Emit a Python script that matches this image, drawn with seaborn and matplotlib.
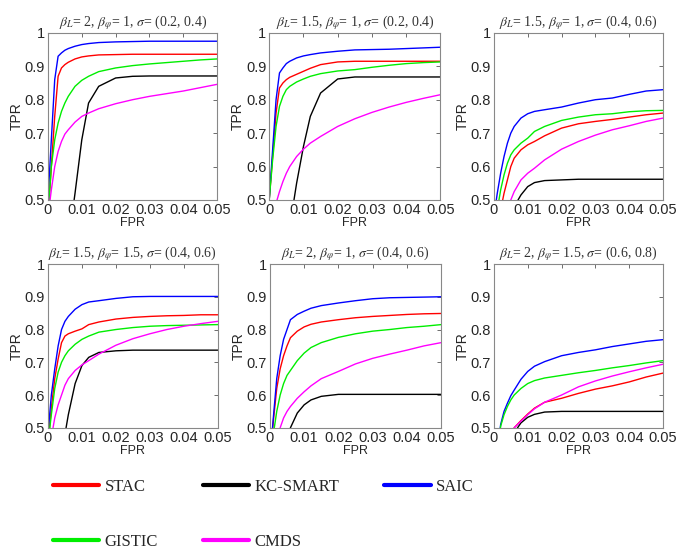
import numpy as np
import pandas as pd
import matplotlib
matplotlib.use('Agg')
import matplotlib.pyplot as plt
from matplotlib.lines import Line2D
from matplotlib.ticker import FuncFormatter
import seaborn as sns

sns.set_style('white')
plt.rcParams['font.family'] = ['Liberation Sans', 'DejaVu Sans']
plt.rcParams['mathtext.fontset'] = 'stix'

# common FPR grid
fpr = [0, 0.001, 0.002, 0.003, 0.004, 0.005, 0.006, 0.008, 0.010, 0.012,
       0.015, 0.020, 0.025, 0.030, 0.035, 0.040, 0.045, 0.050]

methods = ['STAC', 'KC-SMART', 'SAIC', 'GISTIC', 'CMDS']
colors = {'STAC': '#ff0000', 'KC-SMART': '#000000', 'SAIC': '#0000ff',
          'GISTIC': '#00ee00', 'CMDS': '#ff00ff'}

titles = [r'$\beta_L$= 2, $\beta_\varphi$= 1, $\sigma$= (0.2, 0.4)',
          r'$\beta_L$= 1.5, $\beta_\varphi$= 1, $\sigma$= (0.2, 0.4)',
          r'$\beta_L$= 1.5, $\beta_\varphi$= 1, $\sigma$= (0.4, 0.6)',
          r'$\beta_L$= 1.5, $\beta_\varphi$= 1.5, $\sigma$= (0.4, 0.6)',
          r'$\beta_L$= 2, $\beta_\varphi$= 1, $\sigma$= (0.4, 0.6)',
          r'$\beta_L$= 2, $\beta_\varphi$= 1.5, $\sigma$= (0.6, 0.8)']

# panel 1
p1_stac = [0.45, 0.60, 0.75, 0.87, 0.895, 0.905, 0.912, 0.922, 0.928, 0.931, 0.934, 0.935, 0.936, 0.936, 0.936, 0.936, 0.936, 0.936]
p1_kc   = [0.10, 0.12, 0.15, 0.18, 0.22, 0.30, 0.37, 0.52, 0.68, 0.79, 0.84, 0.865, 0.870, 0.871, 0.871, 0.871, 0.871, 0.871]
p1_saic = [0.50, 0.68, 0.86, 0.93, 0.94, 0.948, 0.953, 0.960, 0.965, 0.968, 0.971, 0.973, 0.974, 0.975, 0.975, 0.975, 0.975, 0.975]
p1_gis  = [0.45, 0.60, 0.68, 0.73, 0.765, 0.79, 0.81, 0.84, 0.858, 0.87, 0.884, 0.895, 0.902, 0.907, 0.911, 0.915, 0.919, 0.922]
p1_cmds = [0.45, 0.53, 0.60, 0.645, 0.675, 0.697, 0.71, 0.733, 0.75, 0.76, 0.773, 0.788, 0.80, 0.81, 0.818, 0.826, 0.836, 0.846]

# panel 2
p2_stac = [0.50, 0.63, 0.76, 0.835, 0.85, 0.86, 0.867, 0.876, 0.885, 0.894, 0.905, 0.913, 0.915, 0.915, 0.915, 0.915, 0.915, 0.915]
p2_kc   = [0.10, 0.12, 0.15, 0.18, 0.24, 0.32, 0.42, 0.55, 0.66, 0.75, 0.82, 0.862, 0.868, 0.868, 0.868, 0.868, 0.868, 0.868]
p2_saic = [0.50, 0.65, 0.80, 0.88, 0.895, 0.908, 0.915, 0.925, 0.931, 0.935, 0.94, 0.945, 0.949, 0.95, 0.951, 0.953, 0.955, 0.957]
p2_gis  = [0.50, 0.62, 0.72, 0.78, 0.81, 0.83, 0.84, 0.853, 0.862, 0.87, 0.878, 0.886, 0.89, 0.897, 0.903, 0.908, 0.911, 0.913]
p2_cmds = [0.40, 0.44, 0.49, 0.525, 0.555, 0.58, 0.60, 0.63, 0.652, 0.67, 0.69, 0.72, 0.743, 0.762, 0.778, 0.792, 0.804, 0.815]

# panel 3
p3_stac = [0.40, 0.43, 0.47, 0.52, 0.56, 0.60, 0.625, 0.65, 0.665, 0.675, 0.692, 0.715, 0.728, 0.735, 0.741, 0.748, 0.755, 0.76]
p3_kc   = [0.30, 0.33, 0.36, 0.39, 0.42, 0.45, 0.48, 0.515, 0.54, 0.552, 0.558, 0.56, 0.562, 0.562, 0.562, 0.562, 0.562, 0.562]
p3_saic = [0.45, 0.52, 0.58, 0.63, 0.67, 0.70, 0.72, 0.745, 0.758, 0.765, 0.77, 0.778, 0.79, 0.80, 0.805, 0.816, 0.826, 0.83]
p3_gis  = [0.42, 0.47, 0.53, 0.575, 0.61, 0.635, 0.65, 0.67, 0.685, 0.705, 0.72, 0.738, 0.748, 0.755, 0.758, 0.764, 0.767, 0.768]
p3_cmds = [0.35, 0.38, 0.41, 0.44, 0.47, 0.50, 0.525, 0.56, 0.58, 0.595, 0.62, 0.652, 0.675, 0.694, 0.71, 0.722, 0.735, 0.745]

# panel 4
p4_stac = [0.45, 0.56, 0.65, 0.71, 0.76, 0.78, 0.787, 0.795, 0.802, 0.815, 0.823, 0.832, 0.837, 0.84, 0.842, 0.843, 0.845, 0.845]
p4_kc   = [0.20, 0.25, 0.30, 0.36, 0.42, 0.48, 0.54, 0.635, 0.69, 0.715, 0.73, 0.735, 0.737, 0.737, 0.737, 0.737, 0.737, 0.737]
p4_saic = [0.48, 0.60, 0.68, 0.75, 0.80, 0.825, 0.84, 0.862, 0.876, 0.884, 0.888, 0.895, 0.90, 0.901, 0.901, 0.901, 0.901, 0.901]
p4_gis  = [0.45, 0.54, 0.62, 0.67, 0.70, 0.72, 0.735, 0.755, 0.77, 0.78, 0.792, 0.80, 0.806, 0.81, 0.812, 0.813, 0.814, 0.815]
p4_cmds = [0.42, 0.47, 0.53, 0.57, 0.60, 0.63, 0.65, 0.675, 0.692, 0.705, 0.725, 0.752, 0.772, 0.787, 0.80, 0.81, 0.818, 0.825]

# panel 5
p5_stac = [0.40, 0.52, 0.62, 0.68, 0.72, 0.75, 0.775, 0.795, 0.808, 0.816, 0.823, 0.83, 0.836, 0.84, 0.843, 0.846, 0.848, 0.849]
p5_kc   = [0.20, 0.25, 0.30, 0.35, 0.40, 0.45, 0.50, 0.545, 0.57, 0.585, 0.596, 0.602, 0.602, 0.602, 0.602, 0.602, 0.602, 0.602]
p5_saic = [0.40, 0.53, 0.65, 0.72, 0.77, 0.80, 0.83, 0.846, 0.856, 0.865, 0.873, 0.881, 0.888, 0.894, 0.897, 0.898, 0.899, 0.90]
p5_gis  = [0.40, 0.48, 0.55, 0.60, 0.635, 0.66, 0.675, 0.705, 0.728, 0.745, 0.76, 0.776, 0.787, 0.795, 0.80, 0.806, 0.81, 0.815]
p5_cmds = [0.35, 0.40, 0.45, 0.50, 0.53, 0.55, 0.565, 0.59, 0.61, 0.628, 0.65, 0.672, 0.695, 0.712, 0.725, 0.737, 0.75, 0.76]

# panel 6
p6_stac = [0.30, 0.33, 0.36, 0.40, 0.44, 0.47, 0.50, 0.522, 0.542, 0.56, 0.578, 0.59, 0.605, 0.618, 0.628, 0.64, 0.655, 0.667]
p6_kc   = [0.30, 0.33, 0.36, 0.39, 0.42, 0.45, 0.485, 0.515, 0.532, 0.541, 0.548, 0.55, 0.55, 0.55, 0.55, 0.55, 0.55, 0.55]
p6_saic = [0.35, 0.42, 0.51, 0.55, 0.575, 0.598, 0.615, 0.648, 0.672, 0.688, 0.702, 0.72, 0.73, 0.738, 0.748, 0.756, 0.764, 0.769]
p6_gis  = [0.35, 0.42, 0.505, 0.54, 0.565, 0.585, 0.60, 0.62, 0.635, 0.644, 0.652, 0.66, 0.668, 0.675, 0.683, 0.69, 0.698, 0.705]
p6_cmds = [0.30, 0.33, 0.36, 0.40, 0.44, 0.47, 0.50, 0.52, 0.54, 0.558, 0.578, 0.60, 0.625, 0.643, 0.658, 0.671, 0.683, 0.694]

panels = [
    [p1_stac, p1_kc, p1_saic, p1_gis, p1_cmds],
    [p2_stac, p2_kc, p2_saic, p2_gis, p2_cmds],
    [p3_stac, p3_kc, p3_saic, p3_gis, p3_cmds],
    [p4_stac, p4_kc, p4_saic, p4_gis, p4_cmds],
    [p5_stac, p5_kc, p5_saic, p5_gis, p5_cmds],
    [p6_stac, p6_kc, p6_saic, p6_gis, p6_cmds],
]

# axes boxes in figure fraction (left, bottom, width, height)
boxes = [[0.070, 0.641, 0.247, 0.300], [0.393, 0.641, 0.250, 0.300], [0.721, 0.641, 0.247, 0.300],
         [0.070, 0.232, 0.248, 0.294], [0.394, 0.232, 0.250, 0.294], [0.721, 0.232, 0.247, 0.294]]

fig = plt.figure(figsize=(6.85, 5.57), dpi=100)
fmt = FuncFormatter(lambda v, p: '%g' % round(v, 3))

for i in range(6):
    ax = fig.add_axes(boxes[i])
    rows = []
    for m, ys in zip(methods, panels[i]):
        for x, y in zip(fpr, ys):
            rows.append({'FPR': x, 'TPR': y, 'method': m})
    df = pd.DataFrame(rows)
    sns.lineplot(data=df, x='FPR', y='TPR', hue='method', palette=colors,
                 legend=False, sort=False, lw=1.0, ax=ax)
    ax.set_xlim(0, 0.05)
    ax.set_ylim(0.5, 1)
    ax.set_xticks([0, 0.01, 0.02, 0.03, 0.04, 0.05])
    ax.set_yticks([0.5, 0.6, 0.7, 0.8, 0.9, 1.0])
    ax.xaxis.set_major_formatter(fmt)
    ax.yaxis.set_major_formatter(fmt)
    ax.tick_params(direction='in', top=True, right=True, length=3, width=0.6,
                   labelsize=10.5, pad=2, color='#555555')
    for s in ax.spines.values():
        s.set_color('#888888')
        s.set_linewidth(0.8)
    ax.set_xlabel('FPR', fontsize=9, labelpad=0)
    ax.set_ylabel('TPR', fontsize=10, labelpad=1)
    ax.set_title(titles[i], fontsize=10, family='Liberation Serif', pad=5, color='#333333')

# legend ordered so rows read STAC, KC-SMART, SAIC / GISTIC, CMDS
order = ['STAC', 'GISTIC', 'KC-SMART', 'CMDS', 'SAIC']
handles = [Line2D([], [], color=colors[m], lw=3) for m in order]
fig.legend(handles, order, loc='upper left', bbox_to_anchor=(0.077, 0.140), ncol=3,
           frameon=False, borderpad=0, borderaxespad=0, handlelength=2.8, handletextpad=0.3,
           columnspacing=2.7, labelspacing=2.35, prop={'family': 'Liberation Serif', 'size': 12})

fig.savefig('out.png', dpi=100)
